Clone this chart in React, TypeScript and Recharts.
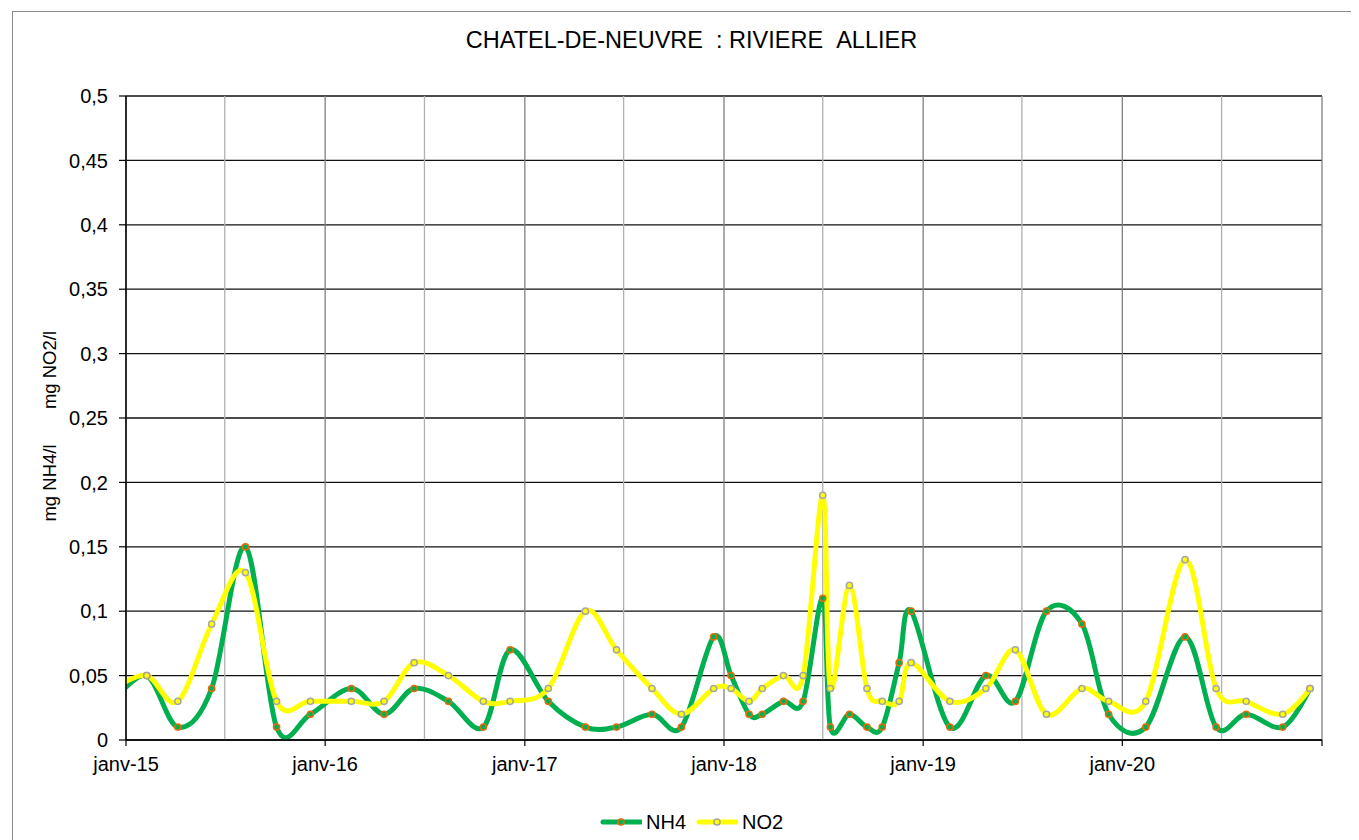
import React from 'react';
import { LineChart, Line, XAxis, YAxis, CartesianGrid, Legend } from 'recharts';

// ---- data ----
const sampleDates = [
  '2014-12-10',
  '2015-02-08', '2015-04-06', '2015-06-07', '2015-08-08', '2015-10-04', '2015-12-05',
  '2016-02-18', '2016-04-18', '2016-06-12', '2016-08-14', '2016-10-17', '2016-12-05',
  '2017-02-13', '2017-04-22', '2017-06-18', '2017-08-22', '2017-10-15', '2017-12-13',
  '2018-01-14', '2018-02-16', '2018-03-12', '2018-04-20', '2018-05-26', '2018-07-01',
  '2018-07-15', '2018-08-19', '2018-09-20', '2018-10-18', '2018-11-18', '2018-12-10',
  '2019-02-19', '2019-04-26', '2019-06-19', '2019-08-15', '2019-10-19', '2019-12-07',
  '2020-02-13', '2020-04-25', '2020-06-21', '2020-08-15', '2020-10-21', '2020-12-10',
];
const nh4Values = [
  0.03,
  0.05, 0.01, 0.04, 0.15, 0.01, 0.02,
  0.04, 0.02, 0.04, 0.03, 0.01, 0.07,
  0.03, 0.01, 0.01, 0.02, 0.01, 0.08,
  0.05, 0.02, 0.02, 0.03, 0.03, 0.11,
  0.01, 0.02, 0.01, 0.01, 0.06, 0.10,
  0.01, 0.05, 0.03, 0.10, 0.09, 0.02,
  0.01, 0.08, 0.01, 0.02, 0.01, 0.04,
];
const no2Values = [
  0.04,
  0.05, 0.03, 0.09, 0.13, 0.03, 0.03,
  0.03, 0.03, 0.06, 0.05, 0.03, 0.03,
  0.04, 0.10, 0.07, 0.04, 0.02, 0.04,
  0.04, 0.03, 0.04, 0.05, 0.05, 0.19,
  0.04, 0.12, 0.04, 0.03, 0.03, 0.06,
  0.03, 0.04, 0.07, 0.02, 0.04, 0.03,
  0.03, 0.14, 0.04, 0.03, 0.02, 0.04,
];
const yearTickDates = ['2015-01-01', '2016-01-01', '2017-01-01', '2018-01-01', '2019-01-01', '2020-01-01', '2021-01-01'];
const yearTickLabels = ['janv-15', 'janv-16', 'janv-17', 'janv-18', 'janv-19', 'janv-20', ''];
const midYearDates = ['2015-07-01', '2016-07-01', '2017-07-01', '2018-07-01', '2019-07-01', '2020-07-01'];
const yTicks = [0, 0.05, 0.1, 0.15, 0.2, 0.25, 0.3, 0.35, 0.4, 0.45, 0.5];

const seriesNames = ['NH4', 'NO2'];
const seriesColors = ['#00B050', '#FFFF00'];
const markerColors = ['#E46C0A', '#A6A6A6'];

const toTime = (d: string) => Date.parse(d + 'T00:00:00Z');
const data = sampleDates.map((d, i) => ({ t: toTime(d), NH4: nh4Values[i], NO2: no2Values[i] }));
const yearTicks = yearTickDates.map(toTime);
const midTicks = midYearDates.map(toTime);

const FONT = '"Liberation Sans", Arial, Helvetica, sans-serif';

// Cardinal (Catmull-Rom like) smoothing similar to Excel's smoothed lines
function smoothCurve(context: any) {
  const k = 1 / 6;
  let x0 = NaN, y0 = NaN, x1 = NaN, y1 = NaN, x2 = NaN, y2 = NaN;
  let pt = 0;
  let line: number = NaN;
  const bez = (x: number, y: number) => {
    context.bezierCurveTo(
      x1 + k * (x2 - x0), y1 + k * (y2 - y0),
      x2 + k * (x1 - x), y2 + k * (y1 - y),
      x2, y2,
    );
  };
  return {
    areaStart() { line = 0; },
    areaEnd() { line = NaN; },
    lineStart() { x0 = x1 = x2 = y0 = y1 = y2 = NaN; pt = 0; },
    lineEnd() {
      switch (pt) {
        case 2: context.lineTo(x2, y2); break;
        case 3: bez(x1, y1); break;
      }
      if (line || (line !== 0 && pt === 1)) context.closePath();
      line = 1 - line;
    },
    point(xx: number, yy: number) {
      const x = +xx, y = +yy;
      switch (pt) {
        case 0: pt = 1; if (line) context.lineTo(x, y); else context.moveTo(x, y); break;
        case 1: pt = 2; x1 = x; y1 = y; break;
        case 2: pt = 3; bez(x, y); break;
        default: bez(x, y); break;
      }
      x0 = x1; x1 = x2; x2 = x;
      y0 = y1; y1 = y2; y2 = y;
    },
  };
}

const formatY = (v: number) => (v === 0 ? '0' : String(+v.toFixed(2)).replace('.', ','));
const formatX = (v: number) => {
  const i = yearTicks.indexOf(v);
  return i >= 0 ? yearTickLabels[i] : '';
};

const renderLegend = () => (
  <div style={{ display: 'flex', alignItems: 'center', height: 24, marginLeft: 592, fontFamily: FONT, fontSize: 20, color: '#000' }}>
    {seriesNames.map((name, i) => (
      <div key={name} style={{ display: 'flex', alignItems: 'center', marginRight: 10 }}>
        <svg width={42} height={24} style={{ display: 'block' }}>
          <line x1={3} y1={12} x2={41} y2={12} stroke={seriesColors[i]} strokeWidth={5} strokeLinecap="round" />
          <circle cx={21} cy={12} r={3.1} fill={seriesColors[i]} stroke={markerColors[i]} strokeWidth={1.5} />
        </svg>
        <span style={{ marginLeft: 4, lineHeight: '24px' }}>{name}</span>
      </div>
    ))}
  </div>
);

const renderYLabel = () => (
  <g>
    <text x={41} y={475} transform="rotate(-90, 41, 475)" textAnchor="middle" dominantBaseline="central" fontFamily={FONT} fontSize={18.5} fill="#000">
      mg NH4/l
    </text>
    <text x={41} y={362} transform="rotate(-90, 41, 362)" textAnchor="middle" dominantBaseline="central" fontFamily={FONT} fontSize={18.5} fill="#000">
      mg NO2/l
    </text>
  </g>
);

export default function App() {
  return (
    <div style={{ position: 'relative', width: 1351, height: 832, overflow: 'hidden', background: '#fff', fontFamily: FONT }}>
      <div style={{ position: 'absolute', left: 4, top: 3, width: 2000, height: 2000, border: '1px solid #8c8c8c', boxSizing: 'border-box' }} />
      <div style={{ position: 'absolute', left: 0, top: 18, width: 1367, textAlign: 'center', fontSize: 23.5, lineHeight: '28px', color: '#000', fontFamily: FONT }}>
        CHATEL-DE-NEUVRE&nbsp;&nbsp;: RIVIERE&nbsp;&nbsp;ALLIER
      </div>
      <div style={{ position: 'absolute', left: 0, top: 0 }}>
        <LineChart width={1351} height={832} data={data} margin={{ top: 88, right: 37, left: 0, bottom: 6 }}>
          <CartesianGrid vertical={false} stroke="#111" strokeWidth={1.3} />
          <CartesianGrid horizontal={false} verticalValues={midTicks} stroke="#b0b0b0" strokeWidth={1.3} />
          <CartesianGrid horizontal={false} verticalValues={yearTicks} stroke="#808080" strokeWidth={1.3} />
          <XAxis
            dataKey="t"
            type="number"
            scale="linear"
            domain={[yearTicks[0], yearTicks[yearTicks.length - 1]]}
            allowDataOverflow
            ticks={yearTicks}
            interval={0}
            tickFormatter={formatX}
            height={70}
            tickSize={6}
            tickMargin={11}
            axisLine={{ stroke: '#000', strokeWidth: 1.5 }}
            tickLine={{ stroke: '#000', strokeWidth: 1.2 }}
            tick={{ fill: '#000', fontSize: 20, fontFamily: FONT }}
          />
          <YAxis
            type="number"
            domain={[0, 0.5]}
            ticks={yTicks}
            interval={0}
            tickFormatter={formatY}
            width={118}
            tickSize={7}
            tickMargin={11}
            axisLine={{ stroke: '#000', strokeWidth: 1.5 }}
            tickLine={{ stroke: '#000', strokeWidth: 1.2 }}
            tick={{ fill: '#000', fontSize: 20, fontFamily: FONT }}
            label={{ content: renderYLabel }}
          />
          <Line
            dataKey="NH4"
            type={smoothCurve as any}
            stroke={seriesColors[0]}
            strokeWidth={5}
            dot={{ r: 3.1, fill: seriesColors[0], stroke: markerColors[0], strokeWidth: 1.5 }}
            activeDot={false}
            isAnimationActive={false}
          />
          <Line
            dataKey="NO2"
            type={smoothCurve as any}
            stroke={seriesColors[1]}
            strokeWidth={5}
            dot={{ r: 3.1, fill: seriesColors[1], stroke: markerColors[1], strokeWidth: 1.5 }}
            activeDot={false}
            isAnimationActive={false}
          />
          <Legend verticalAlign="bottom" content={renderLegend} wrapperStyle={{ left: 0, width: 1351 }} />
        </LineChart>
      </div>
    </div>
  );
}
